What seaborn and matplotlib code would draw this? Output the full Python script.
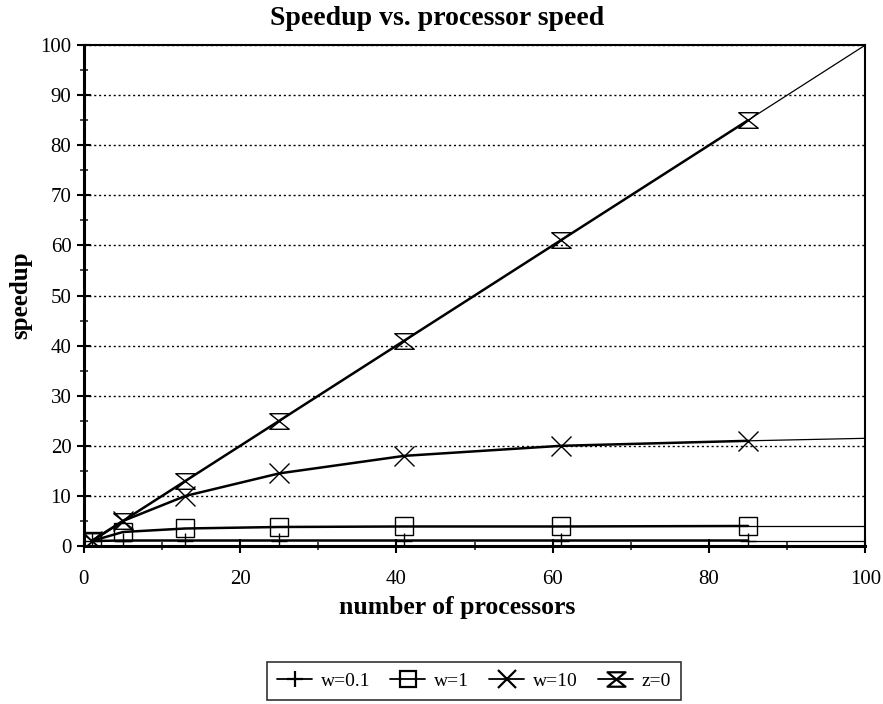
import numpy as np
import pandas as pd
import matplotlib
matplotlib.use("Agg")
import matplotlib.pyplot as plt
from matplotlib.path import Path
from matplotlib.ticker import MultipleLocator
import seaborn as sns

# Data
procs = [1, 5, 13, 25, 41, 61, 85]
proc_end = 100
w01 = [1.0, 1.1, 1.1, 1.1, 1.1, 1.1, 1.1]
w01_end = 1.1
w1 = [1.0, 2.8, 3.5, 3.8, 3.9, 3.9, 4.0]
w1_end = 4.0
w10 = [1.0, 5.0, 10.0, 14.5, 18.0, 20.0, 21.0]
w10_end = 21.5
z0 = [1.0, 5.0, 13.0, 25.0, 41.0, 61.0, 85.0]
z0_end = 100.0
labels = ["w=0.1", "w=1", "w=10", "z=0"]

sns.set_theme(style="white")
plt.rcParams['font.family'] = ['Liberation Serif', 'DejaVu Serif']
plt.rcParams['text.color'] = 'black'
plt.rcParams['axes.labelcolor'] = 'black'

fig = plt.figure(figsize=(8.83, 7.04), dpi=100)
ax = fig.add_axes([0.095, 0.2244, 0.885, 0.7116])

hourglass = Path([(-1, 0.8), (1, 0.8), (-1, -0.8), (1, -0.8), (-1, 0.8)],
                 [Path.MOVETO, Path.LINETO, Path.LINETO, Path.LINETO, Path.CLOSEPOLY])

series = [(w01, w01_end, '+', 12), (w1, w1_end, 's', 13), (w10, w10_end, 'x', 14), (z0, z0_end, hourglass, 14)]
handles = []
for (vals, end, mk, ms), lab in zip(series, labels):
    df = pd.DataFrame({"x": procs, "y": vals})
    sns.lineplot(data=df, x="x", y="y", ax=ax, color="black", lw=1.8,
                 marker=mk, markersize=ms, markerfacecolor="none",
                 markeredgecolor="black", markeredgewidth=1.0, legend=False)
    ext = pd.DataFrame({"x": [procs[-1], proc_end], "y": [vals[-1], end]})
    sns.lineplot(data=ext, x="x", y="y", ax=ax, color="black", lw=0.9, legend=False)
    h, = ax.plot([], [], color="black", lw=1.3, marker=mk, markersize=ms - 1,
                 markerfacecolor="none", markeredgecolor="black", markeredgewidth=1.6)
    handles.append(h)

ax.set_xlim(0, 100)
ax.set_ylim(0, 100)
ax.xaxis.set_major_locator(MultipleLocator(20))
ax.xaxis.set_minor_locator(MultipleLocator(10))
ax.yaxis.set_major_locator(MultipleLocator(10))
ax.yaxis.set_minor_locator(MultipleLocator(5))
ax.tick_params(axis='both', which='major', direction='inout', length=10, width=1.5,
               labelsize=15, colors='black', bottom=True, left=True)
ax.tick_params(axis='x', which='major', pad=12)
ax.tick_params(axis='y', which='major', pad=4)
ax.tick_params(axis='both', which='minor', direction='inout', length=6, width=1.2,
               bottom=True, left=True)
ax.yaxis.grid(True, which='major', linestyle=(0, (1.5, 2)), color='black', lw=1.0)
ax.xaxis.grid(False)
for s in ax.spines.values():
    s.set_color('black')
    s.set_linewidth(1.5)
ax.spines['left'].set_linewidth(2.2)
ax.spines['bottom'].set_linewidth(2.2)

fig.text(0.495, 0.974, "Speedup vs. processor speed", fontsize=20, fontweight='bold',
         ha='center', va='center', color='black')
ax.set_xlabel("number of processors", fontsize=18.5, fontweight='bold', labelpad=2)
ax.xaxis.set_label_coords(0.478, -0.100)
ax.set_ylabel("speedup", fontsize=18, fontweight='bold', labelpad=6)

leg = fig.legend(handles, labels, loc='center', bbox_to_anchor=(0.537, 0.0327), ncol=4,
                 frameon=True, fancybox=False, fontsize=14, handlelength=1.8,
                 handletextpad=0.45, columnspacing=1.04, borderpad=0.5)
leg.get_frame().set_edgecolor('black')
leg.get_frame().set_linewidth(1.2)

fig.savefig("out.png", dpi=100)
